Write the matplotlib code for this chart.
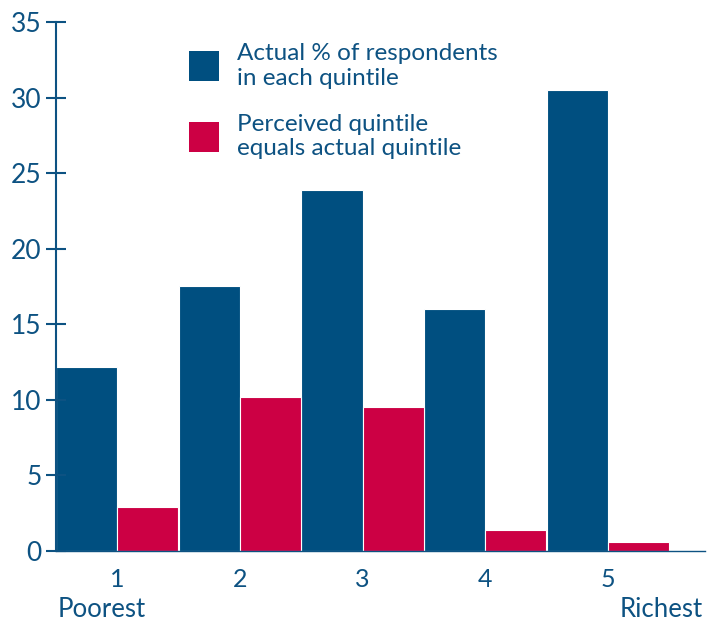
import numpy as np
import matplotlib
matplotlib.use("Agg")
import matplotlib.pyplot as plt
from matplotlib.patches import Patch

plt.rcParams['font.family'] = ['Lato', 'DejaVu Sans']

# data
quintiles = ["1", "2", "3", "4", "5"]
actual = [12.2, 17.5, 23.9, 16.0, 30.5]
perceived = [2.9, 10.2, 9.5, 1.4, 0.6]
labels = ["Actual % of respondents\nin each quintile",
          "Perceived quintile\nequals actual quintile"]

blue = "#004f80"
red = "#cc0044"
ink = "#0d5282"

fig = plt.figure(figsize=(7.13, 6.21), dpi=100)
ax = fig.add_axes([0.0785, 0.1127, 0.9103, 0.8519])

x = np.arange(len(quintiles))
w = 0.497
ax.bar(x - w/2, actual, width=w, color=blue, edgecolor="white", linewidth=0.8)
ax.bar(x + w/2, perceived, width=w, color=red, edgecolor="white", linewidth=0.8)

ax.set_xlim(-w, 4.79)
ax.set_ylim(0, 35)
ax.set_yticks(range(0, 36, 5))
ax.set_xticks(x)
ax.set_xticklabels(quintiles)

for s in ["top", "right"]:
    ax.spines[s].set_visible(False)
ax.spines["left"].set_color(ink)
ax.spines["left"].set_linewidth(1.5)
ax.spines["bottom"].set_color(ink)
ax.spines["bottom"].set_linewidth(1.0)

ax.tick_params(axis="y", direction="inout", length=14.5, width=1.5, color=ink,
               labelcolor=ink, labelsize=19, pad=3)
ax.tick_params(axis="x", length=0, labelcolor=ink, labelsize=18, pad=12)

ax.text(0.003, -0.125, "Poorest", transform=ax.transAxes, ha="left", va="baseline",
        color=ink, fontsize=18.5)
ax.text(0.997, -0.125, "Richest", transform=ax.transAxes, ha="right", va="baseline",
        color=ink, fontsize=18.5)

handles = [Patch(facecolor=blue), Patch(facecolor=red)]
ax.legend(handles, labels, loc="upper left", bbox_to_anchor=(0.205, 0.96),
          frameon=False, fontsize=17.5, labelcolor=ink, borderpad=0, borderaxespad=0,
          handlelength=1.25, handleheight=1.5, handletextpad=0.72, labelspacing=1.05)

fig.savefig("out.png", dpi=100)
